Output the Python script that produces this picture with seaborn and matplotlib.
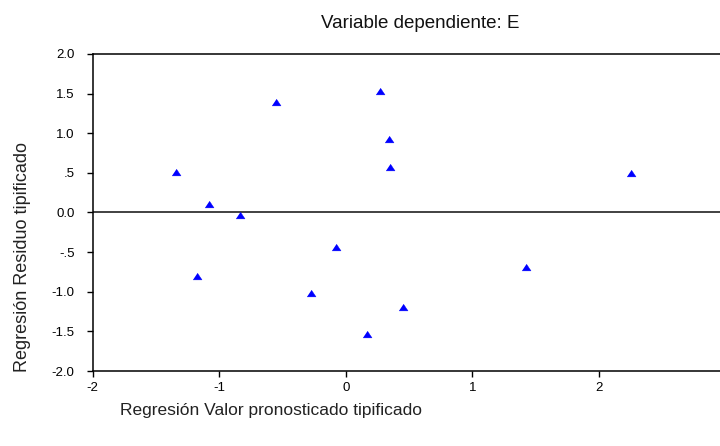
import matplotlib
matplotlib.use("Agg")
import matplotlib.pyplot as plt
import seaborn as sns
import pandas as pd
from matplotlib.ticker import FuncFormatter

# Standardized predicted values and standardized residuals
pred_std = [0.274, -0.548, 0.340, 0.353, -1.344, -1.083, -0.836,
            -0.079, -1.172, -0.274, 0.456, 0.168, 2.255, 1.423]
resid_std = [1.537, 1.398, 0.931, 0.570, 0.515, 0.103, -0.035,
             -0.432, -0.797, -1.020, -1.192, -1.537, 0.502, -0.691]

x_ticks = [-2, -1, 0, 1, 2]
y_ticks = [-2.0, -1.5, -1.0, -0.5, 0.0, 0.5, 1.0, 1.5, 2.0]

title = "Variable dependiente: E"
x_label = "Regresión Valor pronosticado tipificado"
y_label = "Regresión Residuo tipificado"

df = pd.DataFrame({"pred": pred_std, "resid": resid_std})

sns.set_style("ticks")
plt.rcParams["font.family"] = ["Liberation Sans", "DejaVu Sans"]

W, H = 720, 446
fig = plt.figure(figsize=(W / 100, H / 100), dpi=100)
ax_left, ax_bottom, ax_top = 92.6, 371, 54
ax = fig.add_axes([ax_left / W, 1 - ax_bottom / H, 1 - ax_left / W,
                   (ax_bottom - ax_top) / H])

tri = [(-1.0, -0.75), (1.0, -0.75), (0.0, 0.75)]
sns.scatterplot(data=df, x="pred", y="resid", ax=ax, marker=tri, s=42,
                color="#0000ff", edgecolor="#0000ff", linewidth=0.3,
                zorder=3, legend=False)

ax.axhline(0, color="#333333", linewidth=1.3, zorder=2)

ax.set_xlim(-2, 2.957)
ax.set_ylim(-2, 2)
ax.set_xticks(x_ticks)
ax.set_yticks(y_ticks)


def spss_fmt(v, _pos=None):
    s = f"{v:.1f}"
    if s.startswith("0.") and v != 0:
        s = s[1:]
    elif s.startswith("-0.") and v != 0:
        s = "-" + s[2:]
    return s


ax.yaxis.set_major_formatter(FuncFormatter(spss_fmt))
ax.xaxis.set_major_formatter(FuncFormatter(lambda v, p: f"{int(round(v))}"))
ax.tick_params(axis="both", length=4, width=1, color="black",
               labelsize=9.5, labelcolor="black")
ax.tick_params(axis="y", pad=9)
ax.tick_params(axis="x", pad=4)

for side in ("left", "bottom", "top"):
    ax.spines[side].set_color("black")
    ax.spines[side].set_linewidth(1.1)
ax.spines["right"].set_visible(False)

plot_w = W - ax_left
plot_h = ax_bottom - ax_top

ax.set_xlabel(x_label, fontsize=12.5, color="#222222", ha="left", va="center")
ax.xaxis.set_label_coords((120 - ax_left) / plot_w, (ax_bottom - 410) / plot_h)
ax.set_ylabel(y_label, fontsize=13, color="#222222", va="center")
ax.yaxis.set_label_coords(-(ax_left - 23) / plot_w, (ax_bottom - 257) / plot_h)

fig.suptitle(title, x=420 / W, y=1 - 23 / H, fontsize=13.5, color="#111111",
             va="center")

fig.savefig("out.png", dpi=100, facecolor="white")
